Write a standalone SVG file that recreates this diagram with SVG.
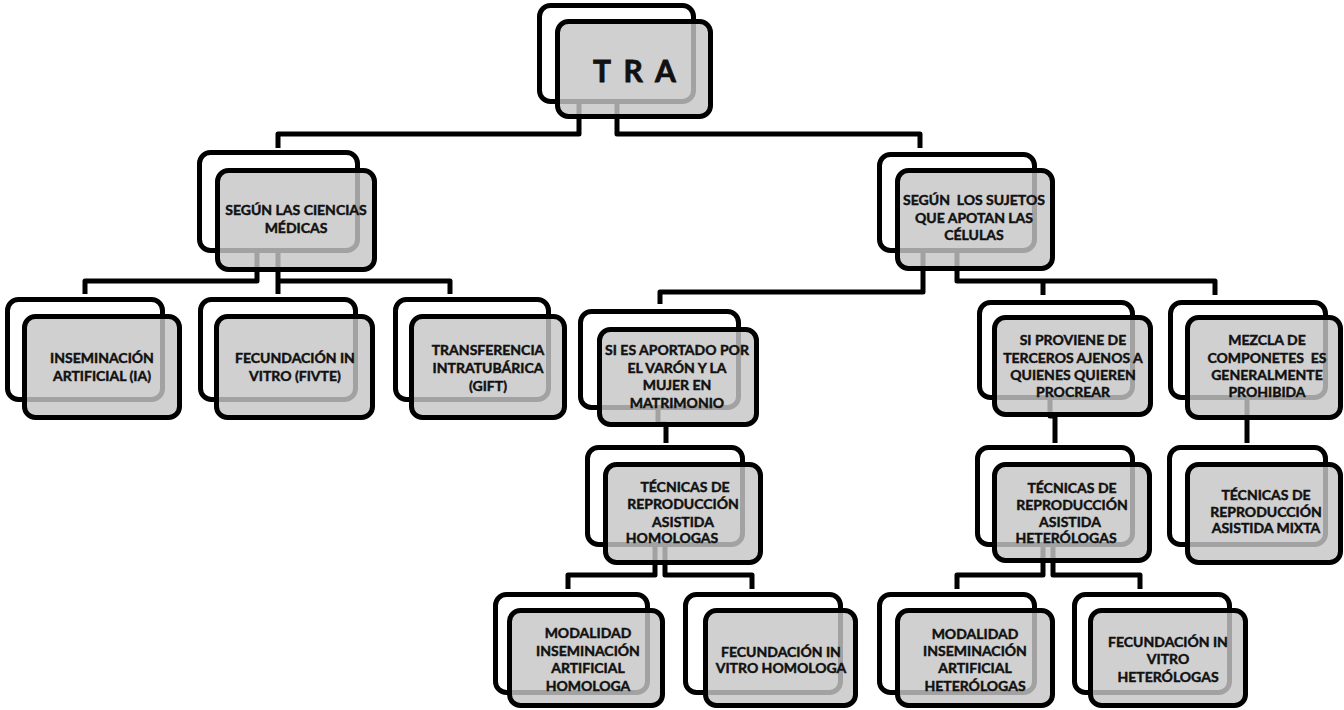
<svg xmlns="http://www.w3.org/2000/svg" width="1344" height="710" viewBox="0 0 1344 710">
<style>
.b{fill:#fff;stroke:#000;stroke-width:5}
.f{fill:#c6c6c6;fill-opacity:0.82;stroke:#000;stroke-width:5}
.c{fill:none;stroke:#000;stroke-width:5;stroke-linejoin:round}
.t{font-family:Lato,"Liberation Sans",sans-serif;font-weight:bold;font-size:14px;text-anchor:middle;fill:#111;stroke:#111;stroke-width:0.45}
.big{font-size:30px;letter-spacing:3px;stroke-width:0.8}
</style>
<rect width="1344" height="710" fill="#fff"/>
<g id="connectors">
<path class="c" d="M579,60 V134 H278 V148"/>
<path class="c" d="M617,60 V134 H920 V148"/>
<path class="c" d="M257,200 V281 H85 V294"/>
<path class="c" d="M278,200 V294"/>
<path class="c" d="M278,281 H450 V294"/>
<path class="c" d="M923,200 V292 H660 V304"/>
<path class="c" d="M957,200 V281 H1215 V295"/>
<path class="c" d="M1043,281 V295"/>
<path class="c" d="M658,380 V424 H666 V443"/>
<path class="c" d="M1050,380 V416 H1055 V443"/>
<path class="c" d="M1247,380 V443"/>
<path class="c" d="M655,520 V575 H568 V589"/>
<path class="c" d="M665,520 V575 H752 V589"/>
<path class="c" d="M1043,520 V575 H957 V589"/>
<path class="c" d="M1053,520 V575 H1140 V589"/>
</g>
<g id="tra">
<rect class="b" x="539.5" y="5.5" width="154" height="96" rx="11"/>
<rect class="f" x="557.5" y="21.5" width="153" height="95" rx="11"/>
<text class="t big" x="636" y="82">T R A</text>
</g>
<g id="ciencias">
<rect class="b" x="199.5" y="152.5" width="158" height="98" rx="11"/>
<rect class="f" x="217.5" y="170.5" width="157" height="99" rx="11"/>
<text class="t" x="296" y="215">SEGÚN LAS CIENCIAS</text>
<text class="t" x="296" y="233">MÉDICAS</text>
</g>
<g id="sujetos">
<rect class="b" x="879.5" y="154.5" width="155" height="96" rx="11"/>
<rect class="f" x="897.5" y="170.5" width="155" height="98" rx="11"/>
<text class="t" x="974" y="205">SEGÚN&#160; LOS SUJETOS</text>
<text class="t" x="974" y="223">QUE APOTAN LAS</text>
<text class="t" x="974" y="240">CÉLULAS</text>
</g>
<g id="inseminacion">
<rect class="b" x="7.5" y="299.5" width="155" height="100" rx="11"/>
<rect class="f" x="24.5" y="316.5" width="155" height="101" rx="11"/>
<text class="t" x="102" y="363">INSEMINACIÓN</text>
<text class="t" x="102" y="381">ARTIFICIAL (IA)</text>
</g>
<g id="fivte">
<rect class="b" x="200.5" y="299.5" width="155" height="100" rx="11"/>
<rect class="f" x="216.5" y="316.5" width="156" height="101" rx="11"/>
<text class="t" x="295" y="363">FECUNDACIÓN IN</text>
<text class="t" x="295" y="381">VITRO (FIVTE)</text>
</g>
<g id="gift">
<rect class="b" x="395.5" y="299.5" width="153" height="100" rx="11"/>
<rect class="f" x="411.5" y="316.5" width="153" height="101" rx="11"/>
<text class="t" x="488" y="355">TRANSFERENCIA</text>
<text class="t" x="488" y="373">INTRATUBÁRICA</text>
<text class="t" x="488" y="391">(GIFT)</text>
</g>
<g id="aportado">
<rect class="b" x="580.5" y="311.5" width="158" height="96" rx="11"/>
<rect class="f" x="599.5" y="329.5" width="157" height="95" rx="11"/>
<text class="t" x="677" y="355">SI ES APORTADO POR</text>
<text class="t" x="677" y="373">EL VARÓN Y LA</text>
<text class="t" x="677" y="390">MUJER EN</text>
<text class="t" x="677" y="408">MATRIMONIO</text>
</g>
<g id="homologas">
<rect class="b" x="587.5" y="447.5" width="155" height="97" rx="11"/>
<rect class="f" x="605.5" y="464.5" width="155" height="98" rx="11"/>
<text class="t" x="685" y="492">TÉCNICAS DE</text>
<text class="t" x="683" y="509">REPRODUCCIÓN</text>
<text class="t" x="683" y="527">ASISTIDA</text>
<text class="t" x="672" y="543">HOMOLOGAS</text>
</g>
<g id="proviene">
<rect class="b" x="979.5" y="302.5" width="153" height="95" rx="11"/>
<rect class="f" x="994.5" y="317.5" width="156" height="97" rx="11"/>
<text class="t" x="1073" y="345">SI PROVIENE DE</text>
<text class="t" x="1073" y="363">TERCEROS AJENOS A</text>
<text class="t" x="1073" y="380">QUIENES QUIEREN</text>
<text class="t" x="1073" y="397">PROCREAR</text>
</g>
<g id="mezcla">
<rect class="b" x="1170.5" y="302.5" width="155" height="95" rx="11"/>
<rect class="f" x="1187.5" y="317.5" width="153" height="100" rx="11"/>
<text class="t" x="1267" y="345">MEZCLA DE</text>
<text class="t" x="1267" y="363">COMPONETES&#160; ES</text>
<text class="t" x="1267" y="380">GENERALMENTE</text>
<text class="t" x="1267" y="397">PROHIBIDA</text>
</g>
<g id="heterologas">
<rect class="b" x="977.5" y="447.5" width="155" height="97" rx="11"/>
<rect class="f" x="994.5" y="464.5" width="155" height="96" rx="11"/>
<text class="t" x="1072" y="493">TÉCNICAS DE</text>
<text class="t" x="1072" y="510">REPRODUCCIÓN</text>
<text class="t" x="1070" y="527">ASISTIDA</text>
<text class="t" x="1066" y="543">HETERÓLOGAS</text>
</g>
<g id="mixta">
<rect class="b" x="1169.5" y="447.5" width="156" height="97" rx="11"/>
<rect class="f" x="1187.5" y="464.5" width="153" height="98" rx="11"/>
<text class="t" x="1266" y="500">TÉCNICAS DE</text>
<text class="t" x="1266" y="517">REPRODUCCIÓN</text>
<text class="t" x="1266" y="533">ASISTIDA MIXTA</text>
</g>
<g id="mod-homologa">
<rect class="b" x="495.5" y="594.5" width="152" height="98" rx="11"/>
<rect class="f" x="509.5" y="610.5" width="153" height="95" rx="11"/>
<text class="t" x="588" y="638">MODALIDAD</text>
<text class="t" x="588" y="656">INSEMINACIÓN</text>
<text class="t" x="588" y="673">ARTIFICIAL</text>
<text class="t" x="588" y="691">HOMOLOGA</text>
</g>
<g id="fiv-homologa">
<rect class="b" x="685.5" y="594.5" width="155" height="98" rx="11"/>
<rect class="f" x="705.5" y="610.5" width="150" height="95" rx="11"/>
<text class="t" x="781" y="657">FECUNDACIÓN IN</text>
<text class="t" x="781" y="673">VITRO HOMOLOGA</text>
</g>
<g id="mod-heterologas">
<rect class="b" x="879.5" y="594.5" width="155" height="98" rx="11"/>
<rect class="f" x="897.5" y="610.5" width="155" height="95" rx="11"/>
<text class="t" x="975" y="639">MODALIDAD</text>
<text class="t" x="975" y="656">INSEMINACIÓN</text>
<text class="t" x="975" y="673">ARTIFICIAL</text>
<text class="t" x="975" y="691">HETERÓLOGAS</text>
</g>
<g id="fiv-heterologas">
<rect class="b" x="1074.5" y="594.5" width="155" height="98" rx="11"/>
<rect class="f" x="1090.5" y="610.5" width="155" height="95" rx="11"/>
<text class="t" x="1168" y="647">FECUNDACIÓN IN</text>
<text class="t" x="1168" y="664">VITRO</text>
<text class="t" x="1168" y="682">HETERÓLOGAS</text>
</g>
</svg>
